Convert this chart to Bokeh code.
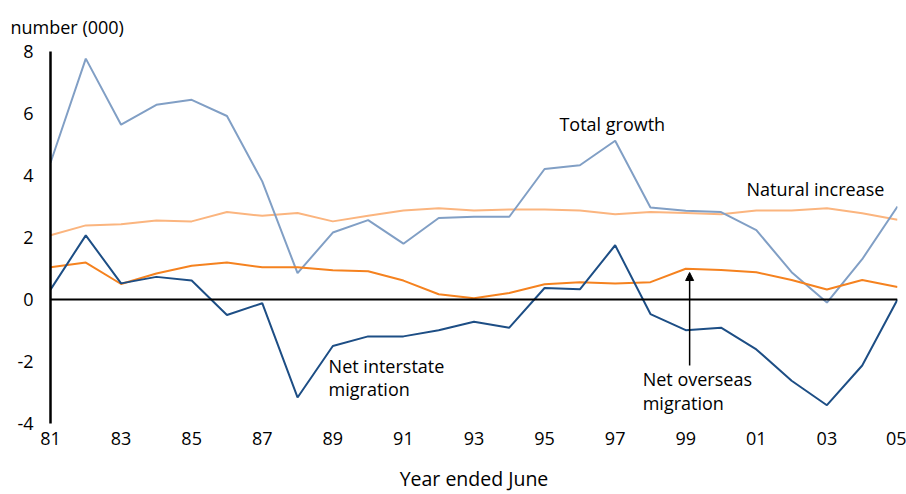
from bokeh.plotting import figure
from bokeh.models import Label, Arrow, NormalHead, Span, FixedTicker
from bokeh.embed import file_html
from bokeh.resources import INLINE

years = list(range(1981, 2006))
tick_labels = ["81", "83", "85", "87", "89", "91", "93", "95", "97", "99", "01", "03", "05"]

total_growth = [4.41, 7.77, 5.64, 6.28, 6.44, 5.92, 3.81, 0.85, 2.16, 2.56, 1.80, 2.63, 2.67,
                2.67, 4.21, 4.33, 5.12, 2.97, 2.86, 2.82, 2.24, 0.88, -0.10, 1.30, 3.00]
natural_increase = [2.07, 2.39, 2.43, 2.55, 2.52, 2.82, 2.70, 2.79, 2.52, 2.70, 2.87, 2.94, 2.87,
                    2.90, 2.90, 2.87, 2.75, 2.82, 2.79, 2.75, 2.87, 2.87, 2.94, 2.78, 2.57]
net_overseas = [1.04, 1.19, 0.50, 0.84, 1.09, 1.19, 1.04, 1.04, 0.94, 0.91, 0.61, 0.17, 0.04,
                0.21, 0.49, 0.56, 0.52, 0.56, 0.99, 0.95, 0.88, 0.63, 0.32, 0.63, 0.40]
net_interstate = [0.32, 2.07, 0.52, 0.73, 0.61, -0.50, -0.12, -3.16, -1.50, -1.19, -1.19, -0.99, -0.72,
                  -0.91, 0.37, 0.33, 1.75, -0.47, -0.99, -0.91, -1.61, -2.62, -3.41, -2.13, 0.00]

FONT = "Open Sans"

p = figure(width=906, height=494, x_range=(1981, 2005), y_range=(-4, 8),
           output_backend="svg", toolbar_location=None,
           min_border_left=50, min_border_right=9, min_border_top=51, min_border_bottom=10,
           title="number (000)")
p.outline_line_color = None
p.grid.visible = False
p.background_fill_color = "white"

p.title.text_font = FONT
p.title.text_font_size = "18px"
p.title.text_font_style = "normal"
p.title.text_color = "black"
p.title.align = "left"
p.title.offset = -40
p.title.standoff = 25

# axes
y_ticks = [-4, -2, 0, 2, 4, 6, 8]
p.yaxis.ticker = FixedTicker(ticks=y_ticks)
p.yaxis.major_label_overrides = {t: str(t) for t in y_ticks}
p.yaxis.axis_line_color = "black"
p.yaxis.axis_line_width = 2.5
p.yaxis.major_tick_line_color = None
p.yaxis.major_tick_out = 0
p.yaxis.major_tick_in = 0
p.yaxis.minor_tick_line_color = None
p.yaxis.major_label_standoff = 17
p.yaxis.major_label_text_font = FONT
p.yaxis.major_label_text_font_size = "18px"
p.yaxis.major_label_text_color = "black"

tick_years = [1981 + 2 * i for i in range(len(tick_labels))]
p.xaxis.ticker = FixedTicker(ticks=tick_years)
p.xaxis.major_label_overrides = {y: l for y, l in zip(tick_years, tick_labels)}
p.xaxis.axis_line_color = None
p.xaxis.major_tick_line_color = None
p.xaxis.major_tick_out = 0
p.xaxis.major_tick_in = 0
p.xaxis.minor_tick_line_color = None
p.xaxis.major_label_standoff = 8
p.xaxis.major_label_text_font = FONT
p.xaxis.major_label_text_font_size = "18px"
p.xaxis.major_label_text_color = "black"
p.xaxis.axis_label = "Year ended June"
p.xaxis.axis_label_text_font = FONT
p.xaxis.axis_label_text_font_size = "19.5px"
p.xaxis.axis_label_text_font_style = "normal"
p.xaxis.axis_label_text_color = "black"
p.xaxis.axis_label_standoff = 17

# zero line
p.add_layout(Span(location=0, dimension="width", line_color="black", line_width=2))

# series
p.line(years, natural_increase, line_color="#FBB57F", line_width=2)
p.line(years, total_growth, line_color="#819FC5", line_width=2)
p.line(years, net_overseas, line_color="#F5821F", line_width=2)
p.line(years, net_interstate, line_color="#1D4E85", line_width=2)

# annotations
def lab(x, y, t, align="left"):
    p.add_layout(Label(x=x, y=y, text=t, text_font=FONT, text_font_size="18px",
                       text_color="black", text_align=align, text_baseline="middle"))

lab(1995.42, 5.65, "Total growth")
lab(2000.72, 3.55, "Natural increase")
lab(1988.88, -2.16, "Net interstate")
lab(1988.88, -2.90, "migration")
lab(1997.78, -2.58, "Net overseas")
lab(1997.78, -3.35, "migration")

p.add_layout(Arrow(end=NormalHead(size=8, fill_color="black", line_color="black"),
                   x_start=1999.11, y_start=-2.13, x_end=1999.11, y_end=0.87,
                   line_color="black", line_width=1.5))

open("out.html", "w").write(file_html(p, INLINE))
